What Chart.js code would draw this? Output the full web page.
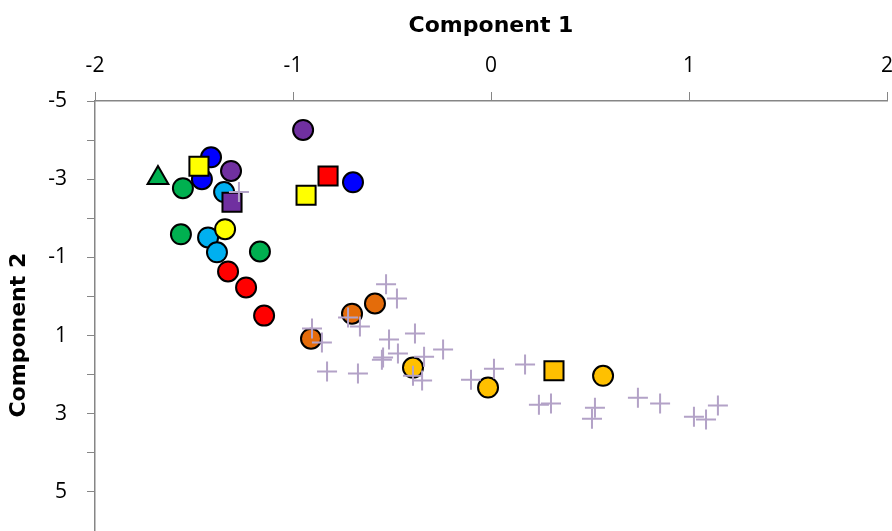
<!DOCTYPE html>
<html>
<head>
<meta charset="utf-8">
<script src="https://cdn.jsdelivr.net/npm/chart.js@4.4.1/dist/chart.umd.min.js"></script>
<style>
  html, body { margin: 0; padding: 0; background: #fff; }
  #wrap { width: 892px; height: 531px; }
</style>
</head>
<body>
<div id="wrap"><canvas id="grafico"></canvas></div>
<script>
// valores (Component 1 = x, Component 2 = y)
const xTicks = [-2, -1, 0, 1, 2];
const yTicks = [-5, -3, -1, 1, 3, 5];

const crossX = [-1.273, -0.530, -0.475, -0.904, -0.854, -0.722, -0.662, -0.515, -0.384, -0.551,
                -0.545, -0.470, -0.338, -0.242, -0.828, -0.672, -0.394, -0.348, -0.101, 0.015,
                0.172, 0.242, 0.303, 0.510, 0.525, 0.742, 0.854, 1.025, 1.086, 1.146];
const crossY = [-2.67, -0.31, 0.05, 0.82, 1.18, 0.54, 0.77, 1.10, 0.95, 1.62,
                1.56, 1.46, 1.54, 1.36, 1.92, 1.97, 2.03, 2.15, 2.13, 1.85,
                1.74, 2.77, 2.74, 3.13, 2.85, 2.59, 2.74, 3.08, 3.15, 2.79];

const blueX = [-1.414, -1.460, -0.697];
const blueY = [-3.56, -3.00, -2.92];
const purpleX = [-0.949, -1.313];
const purpleY = [-4.26, -3.21];
const greenX = [-1.556, -1.566, -1.167];
const greenY = [-2.77, -1.59, -1.15];
const lightBlueX = [-1.348, -1.429, -1.384];
const lightBlueY = [-2.67, -1.51, -1.13];
const yellowX = [-1.343];
const yellowY = [-1.72];
const redX = [-1.328, -1.237, -1.146];
const redY = [-0.64, -0.23, 0.49];
const orangeX = [-0.909, -0.702, -0.586];
const orangeY = [1.08, 0.44, 0.18];
const goldX = [-0.394, -0.015, 0.566];
const goldY = [1.82, 2.33, 2.03];

const yellowSqX = [-1.475, -0.934];
const yellowSqY = [-3.33, -2.59];
const redSqX = [-0.823];
const redSqY = [-3.08];
const purpleSqX = [-1.308];
const purpleSqY = [-2.41];
const goldSqX = [0.318];
const goldSqY = [1.90];
const triX = [-1.682];
const triY = [-3.03];

function pontos(xs, ys) {
  return xs.map((x, i) => ({ x: x, y: ys[i] }));
}

function serie(xs, ys, cor, estilo, raio) {
  return {
    data: pontos(xs, ys),
    pointStyle: estilo,
    pointRadius: raio,
    pointHoverRadius: raio,
    backgroundColor: cor,
    borderColor: '#000000',
    borderWidth: 2
  };
}

const fonte = "'Open Sans', sans-serif";
const fonteTitulo = "'DejaVu Sans', sans-serif";

const ctx = document.getElementById('grafico').getContext('2d');
const myChart = new Chart(ctx, {
  type: 'scatter',
  data: {
    datasets: [
      {
        data: pontos(crossX, crossY),
        pointStyle: 'cross',
        pointRadius: 10,
        pointHoverRadius: 10,
        borderColor: '#B3A2C7',
        backgroundColor: '#B3A2C7',
        borderWidth: 2
      },
      serie(yellowSqX, yellowSqY, '#FFFF00', 'rect', 13.5),
      serie(redSqX, redSqY, '#FF0000', 'rect', 13.5),
      serie(purpleSqX, purpleSqY, '#7030A0', 'rect', 13.5),
      serie(goldSqX, goldSqY, '#FFC000', 'rect', 13.5),
      serie(triX, triY, '#00B050', 'triangle', 12),
      serie(yellowX, yellowY, '#FFFF00', 'circle', 10),
      serie(lightBlueX, lightBlueY, '#00B0F0', 'circle', 10),
      serie(purpleX, purpleY, '#7030A0', 'circle', 10),
      serie(blueX, blueY, '#0000FF', 'circle', 10),
      serie(greenX, greenY, '#00B050', 'circle', 10),
      serie(redX, redY, '#FF0000', 'circle', 10),
      serie(orangeX, orangeY, '#E46C0A', 'circle', 10),
      serie(goldX, goldY, '#FFC000', 'circle', 10)
    ]
  },
  options: {
    responsive: true,
    maintainAspectRatio: false,
    animation: false,
    layout: { padding: 0, autoPadding: false },
    plugins: {
      legend: { display: false },
      tooltip: { enabled: false }
    },
    scales: {
      x: {
        type: 'linear',
        position: 'top',
        min: xTicks[0],
        max: xTicks[xTicks.length - 1],
        afterBuildTicks: (scale) => { scale.ticks = xTicks.map(v => ({ value: v })); },
        afterFit: (scale) => { scale.height = 101; scale.paddingRight = 5; },
        grid: { drawOnChartArea: false, tickLength: 9, color: '#868686', tickColor: '#868686' },
        border: { color: '#868686', width: 1.5 },
        ticks: { color: '#000', font: { family: fonte, size: 21 }, padding: 13, maxRotation: 0 },
        title: { display: true, text: 'Component 1', color: '#000', font: { family: fonteTitulo, size: 22, weight: 'bold' }, padding: { top: 13, bottom: 0 } }
      },
      y: {
        type: 'linear',
        position: 'left',
        reverse: true,
        min: -5,
        max: 6,
        ticks: {
          stepSize: 1,
          color: '#000',
          font: { family: fonte, size: 21 },
          padding: 20,
          callback: (v) => (yTicks.includes(v) ? v : '')
        },
        afterFit: (scale) => { scale.width = 95; scale.paddingTop = 0; scale.paddingBottom = 0; },
        grid: { drawOnChartArea: false, tickLength: 8, color: '#868686', tickColor: '#868686' },
        border: { color: '#868686', width: 1.5 },
        // espaços no fim deslocam o título para baixo, como no original
        title: { display: true, text: 'Component 2     ', color: '#000', font: { family: fonteTitulo, size: 22, weight: 'bold' }, padding: { top: 6, bottom: 0 } }
      }
    }
  }
});
</script>
</body>
</html>
